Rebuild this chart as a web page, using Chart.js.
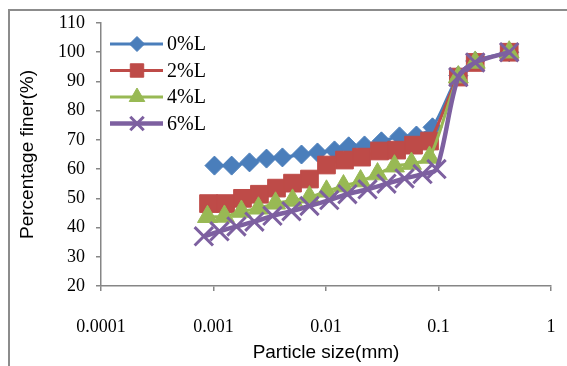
<!DOCTYPE html>
<html>
<head>
<meta charset="utf-8">
<script src="https://cdn.jsdelivr.net/npm/chart.js@4/dist/chart.umd.min.js"></script>
<style>
  html, body { margin: 0; padding: 0; background: #fff; }
</style>
</head>
<body>
<canvas id="gradChart" width="567" height="366"></canvas>
<script>
// grain size distribution, lime contents 0/2/4/6 %
const seriesNames = ['0%L', '2%L', '4%L', '6%L']
const seriesColors = ['#4A7EBB', '#BE4B48', '#98B954', '#7D60A0']
const markerStyles = ['rectRot', 'rect', 'triangle', 'crossRot']

const size0 = [0.00102, 0.00145, 0.00209, 0.00296, 0.0041, 0.00606, 0.0084, 0.0119, 0.0159, 0.022, 0.0311, 0.045, 0.0637, 0.0885, 0.15, 0.212, 0.425]
const finer0 = [61.2, 61.2, 62.3, 63.6, 64.0, 65.0, 65.7, 66.4, 67.8, 68.1, 69.5, 71.2, 71.5, 74.3, 92, 97, 100]

const size2 = [0.000903, 0.00128, 0.00181, 0.00256, 0.00363, 0.00504, 0.00713, 0.0101, 0.0146, 0.0207, 0.0299, 0.0424, 0.06, 0.0832, 0.15, 0.212, 0.425]
const finer2 = [48.2, 48.2, 50.0, 51.4, 53.5, 55.2, 56.6, 61.4, 63.1, 64.1, 66.2, 66.5, 68.2, 69.6, 91.5, 96.5, 100]

const size4 = [0.000884, 0.00125, 0.00177, 0.00251, 0.00356, 0.00504, 0.00713, 0.0101, 0.0143, 0.0203, 0.0287, 0.0406, 0.0575, 0.0832, 0.15, 0.212, 0.425]
const finer4 = [43.7, 43.8, 45.5, 46.6, 48.3, 49.3, 50.4, 52.4, 54.2, 55.9, 58.3, 61.0, 61.9, 64.0, 91.5, 96.5, 100]

const size6 = [0.00082, 0.00113, 0.0016, 0.00231, 0.00334, 0.00493, 0.00713, 0.0107, 0.0155, 0.0234, 0.0345, 0.0499, 0.0721, 0.096, 0.15, 0.212, 0.425]
const finer6 = [37.0, 38.7, 40.4, 42.0, 44.0, 45.6, 47.4, 49.4, 51.4, 53.1, 55.0, 56.8, 58.3, 60.0, 91.5, 96.5, 100]

const xTicks = [0.0001, 0.001, 0.01, 0.1, 1]
const xTickLabels = ['0.0001', '0.001', '0.01', '0.1', '1']

const sizes = [size0, size2, size4, size6]
const finers = [finer0, finer2, finer4, finer6]
const markerRadius = [9.5, 12.5, 11.5, 13]
const legendRadius = [7.5, 9.5, 9, 9.5]
const lineWidths = [3, 3, 3, 4.5]

const axisGrey = '#868686'
const serif = 'Liberation Serif'
const sans = 'Liberation Sans'

function points(xs, ys) {
  return xs.map((x, i) => ({ x: x, y: ys[i] }))
}

const datasets = seriesNames.map((name, i) => ({
  label: name,
  data: points(sizes[i], finers[i]),
  borderColor: seriesColors[i],
  backgroundColor: seriesColors[i],
  borderWidth: lineWidths[i],
  pointStyle: markerStyles[i],
  pointRadius: markerRadius[i],
  pointBackgroundColor: seriesColors[i],
  pointBorderColor: seriesColors[i],
  pointBorderWidth: markerStyles[i] === 'crossRot' ? 3 : 1,
  tension: 0.3,
  order: 3 - i,
}))

// grey frame around the whole figure
const framePlugin = {
  id: 'frame',
  beforeDraw(chart) {
    const ctx = chart.ctx
    ctx.save()
    ctx.fillStyle = '#fff'
    ctx.fillRect(0, 0, chart.width, chart.height)
    ctx.strokeStyle = '#8c8c8c'
    ctx.lineWidth = 2
    ctx.beginPath()
    ctx.moveTo(9, chart.height)
    ctx.lineTo(9, 10)
    ctx.lineTo(chart.width, 10)
    ctx.stroke()
    ctx.restore()
  },
}

// legend with line + marker samples, inside the plot
const lineLegend = {
  id: 'lineLegend',
  afterDatasetsDraw(chart) {
    const ctx = chart.ctx
    const rows = [44, 70.5, 97, 123.5]
    ctx.save()
    seriesNames.forEach((name, i) => {
      const y = rows[i]
      ctx.strokeStyle = seriesColors[i]
      ctx.lineWidth = lineWidths[i]
      ctx.beginPath()
      ctx.moveTo(110, y)
      ctx.lineTo(163, y)
      ctx.stroke()
      ctx.fillStyle = seriesColors[i]
      ctx.strokeStyle = seriesColors[i]
      ctx.lineWidth = markerStyles[i] === 'crossRot' ? 3 : 1
      Chart.helpers.drawPoint(ctx, {
        pointStyle: markerStyles[i],
        radius: legendRadius[i],
        rotation: 0,
        borderWidth: ctx.lineWidth,
      }, 137, y)
      ctx.fillStyle = '#000'
      ctx.font = '20px "' + serif + '"'
      ctx.textAlign = 'left'
      ctx.textBaseline = 'middle'
      ctx.fillText(name, 167, y + 1)
    })
    ctx.restore()
  },
}

new Chart(document.getElementById('gradChart'), {
  type: 'line',
  data: { datasets: datasets },
  plugins: [framePlugin, lineLegend],
  options: {
    responsive: false,
    animation: false,
    devicePixelRatio: 1,
    layout: { padding: { left: 0, right: 15, top: 23, bottom: 0 } },
    plugins: {
      legend: { display: false },
      tooltip: { enabled: false },
    },
    scales: {
      x: {
        type: 'logarithmic',
        min: 0.0001,
        max: 1,
        afterBuildTicks: (scale) => {
          scale.ticks = xTicks.map((v) => ({ value: v, major: true }))
        },
        afterFit: (scale) => {
          // labels sit far below the axis; keep that gap out of the side padding
          scale.height = 80
          scale.paddingLeft = 0
          scale.paddingRight = 0
        },
        grid: { drawOnChartArea: false, drawTicks: true, tickLength: 5, color: axisGrey, lineWidth: 1.5 },
        border: { color: axisGrey, width: 1.5 },
        ticks: {
          autoSkip: false,
          maxRotation: 0,
          padding: 25,
          color: '#000',
          font: { family: serif, size: 18 },
          callback: (value) => {
            const k = xTicks.indexOf(value)
            return k >= 0 ? xTickLabels[k] : ''
          },
        },
        title: {
          display: true,
          text: 'Particle size(mm)',
          color: '#000',
          font: { family: sans, size: 19 },
          padding: { top: 0, bottom: 2 },
        },
      },
      y: {
        min: 20,
        max: 110,
        afterFit: (scale) => { scale.width = 101 },
        grid: { drawOnChartArea: false, drawTicks: true, tickLength: 5, color: axisGrey, lineWidth: 1.5 },
        border: { color: axisGrey, width: 1.5 },
        ticks: {
          stepSize: 10,
          padding: 11,
          color: '#000',
          font: { family: serif, size: 18 },
        },
        title: {
          display: true,
          text: 'Percentage finer(%)',
          color: '#000',
          font: { family: sans, size: 19 },
          padding: { top: 16, bottom: 0 },
        },
      },
    },
  },
})
</script>
</body>
</html>
